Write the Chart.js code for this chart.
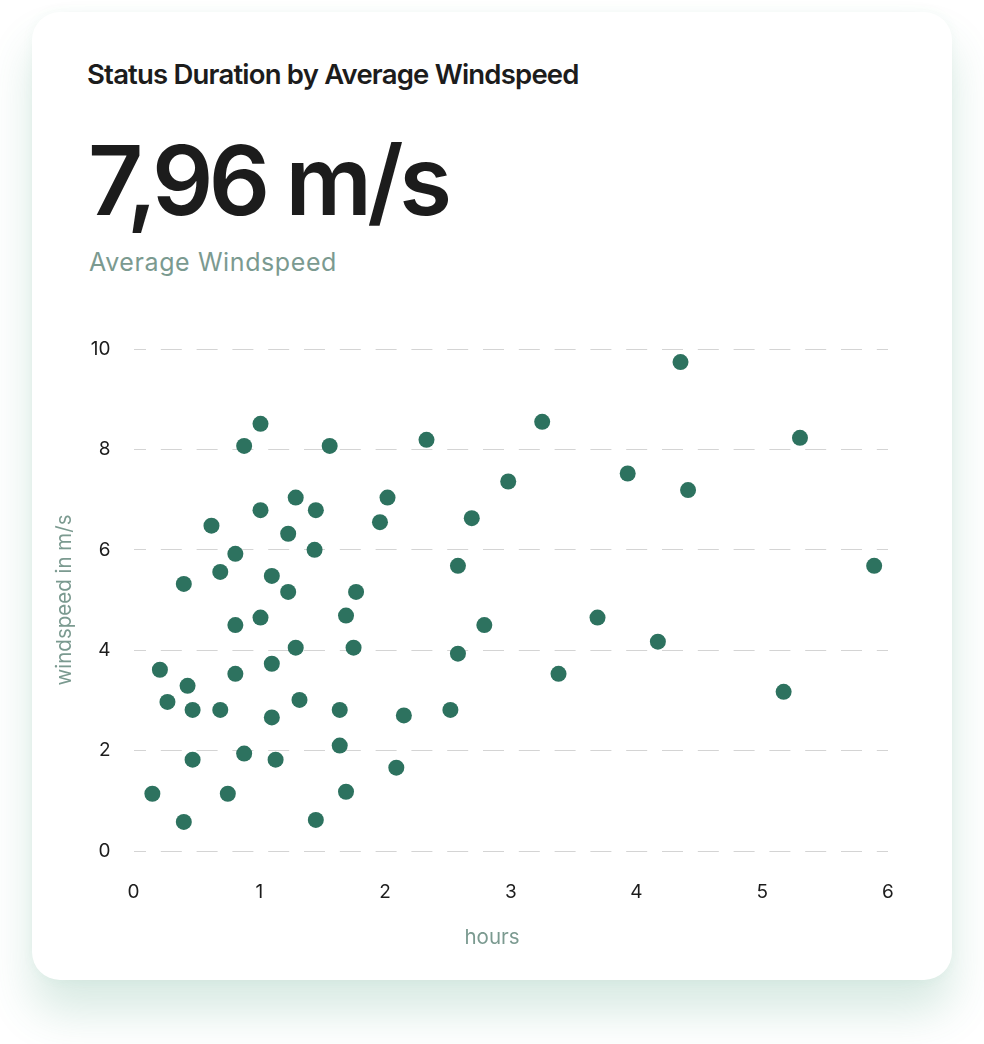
<!DOCTYPE html>
<html>
<head>
<meta charset="utf-8">
<script src="https://cdn.jsdelivr.net/npm/chart.js@4/dist/chart.umd.min.js"></script>
<style>
  html, body { margin: 0; padding: 0; background: #fff; }
  body { width: 984px; height: 1044px; position: relative; overflow: hidden; font-family: Inter, sans-serif; }
  .card {
    position: absolute; left: 32px; top: 12px; width: 920px; height: 968px;
    background: #fff; border-radius: 28px;
    box-shadow: 0 32px 45px rgba(60, 150, 115, 0.2), 0 0 12px rgba(60, 150, 115, 0.05);
  }
  .title { position: absolute; left: 87px; top: 61px; font-size: 27.5px; font-weight: 600; line-height: 1; color: #1c1c1c; letter-spacing: -0.8px; white-space: nowrap; }
  .big { position: absolute; left: 88px; top: 132px; font-size: 96px; font-weight: 600; line-height: 1; color: #1c1c1c; letter-spacing: -4.5px; white-space: nowrap; }
  .sub { position: absolute; left: 89px; top: 250px; font-size: 25px; font-weight: 400; line-height: 1; color: #7b9a90; letter-spacing: 0.6px; white-space: nowrap; }
  .wrap { position: absolute; left: 32px; top: 300px; width: 920px; height: 680px; }
</style>
</head>
<body>
<div class="card"></div>
<div class="title">Status Duration by Average Windspeed</div>
<div class="big">7,96 m/s</div>
<div class="sub">Average Windspeed</div>
<div class="wrap"><canvas id="scatterChart"></canvas></div>
<script>
// hours on x, windspeed (m/s) on y
const hours = [
  1.01, 0.88, 1.56, 2.33, 1.29, 2.02, 1.01, 1.45, 0.62, 1.96,
  2.69, 1.23, 0.81, 1.44, 0.69, 0.40, 1.10, 1.23, 1.77, 2.58,
  1.69, 1.01, 0.81, 2.79, 1.29, 1.75, 2.58, 0.21, 1.10, 0.81,
  0.43, 0.27, 1.32, 0.47, 0.69, 1.64, 2.52, 1.10, 2.15, 1.64,
  0.88, 0.47, 1.13, 2.09, 0.15, 0.75, 1.69, 0.40, 1.45,
  4.35, 3.25, 5.30, 2.98, 3.93, 4.41, 5.89, 3.69, 4.17, 3.38, 5.17
];
const windspeed = [
  8.51, 8.07, 8.07, 8.19, 7.04, 7.04, 6.79, 6.79, 6.48, 6.55,
  6.63, 6.32, 5.92, 6.00, 5.56, 5.32, 5.48, 5.16, 5.16, 5.68,
  4.69, 4.65, 4.50, 4.50, 4.05, 4.05, 3.93, 3.61, 3.73, 3.53,
  3.29, 2.97, 3.01, 2.81, 2.81, 2.81, 2.81, 2.66, 2.70, 2.10,
  1.94, 1.82, 1.82, 1.66, 1.14, 1.14, 1.18, 0.58, 0.62,
  9.74, 8.55, 8.23, 7.36, 7.52, 7.19, 5.68, 4.65, 4.17, 3.53, 3.17
];
const xTicks = [0, 1, 2, 3, 4, 5, 6];
const yTicks = [0, 2, 4, 6, 8, 10];
const xTitle = 'hours';
const yTitle = 'windspeed in m/s';

const points = hours.map((h, i) => ({ x: h, y: windspeed[i] }));

// x title sits centred under the whole card, not under the plot area
const xTitlePlugin = {
  id: 'xTitle',
  afterDraw(chart) {
    const c = chart.ctx;
    c.save();
    c.font = '20.5px Inter';
    c.fillStyle = '#7b9a90';
    c.textAlign = 'center';
    c.textBaseline = 'middle';
    c.fillText(xTitle, chart.width / 2, 638);
    c.restore();
  }
};

const ctx = document.getElementById('scatterChart').getContext('2d');

new Chart(ctx, {
  type: 'scatter',
  data: {
    datasets: [{
      label: 'Status duration',
      data: points,
      backgroundColor: '#2d725f',
      borderColor: '#2d725f',
      borderWidth: 0,
      pointRadius: 8,
      pointHoverRadius: 8
    }]
  },
  options: {
    responsive: true,
    maintainAspectRatio: false,
    animation: false,
    layout: { padding: { top: 49, right: 64, left: 0, bottom: 0 } },
    plugins: {
      legend: { display: false },
      tooltip: { enabled: false }
    },
    scales: {
      x: {
        type: 'linear',
        min: xTicks[0],
        max: xTicks[xTicks.length - 1],
        afterBuildTicks: (s) => { s.ticks = xTicks.map(v => ({ value: v })); },
        afterFit: (s) => { s.height = 129; },
        grid: { display: false, drawTicks: false },
        border: { display: false },
        ticks: { color: '#1c1c1c', font: { family: 'Inter', size: 19 }, padding: 30 }
      },
      y: {
        type: 'linear',
        min: yTicks[0],
        max: yTicks[yTicks.length - 1],
        afterBuildTicks: (s) => { s.ticks = yTicks.map(v => ({ value: v })); },
        afterFit: (s) => { s.width = 101.5; },
        grid: { color: '#d4d4d4', lineWidth: 1, drawTicks: false },
        border: { display: false, dash: [21, 14.8], dashOffset: 9 },
        ticks: { color: '#1c1c1c', font: { family: 'Inter', size: 19 }, padding: 23 },
        title: {
          display: true, text: yTitle, color: '#7b9a90',
          font: { family: 'Inter', size: 20.5 }, padding: { top: 21, bottom: 0 }
        }
      }
    }
  },
  plugins: [xTitlePlugin]
});
</script>
</body>
</html>
